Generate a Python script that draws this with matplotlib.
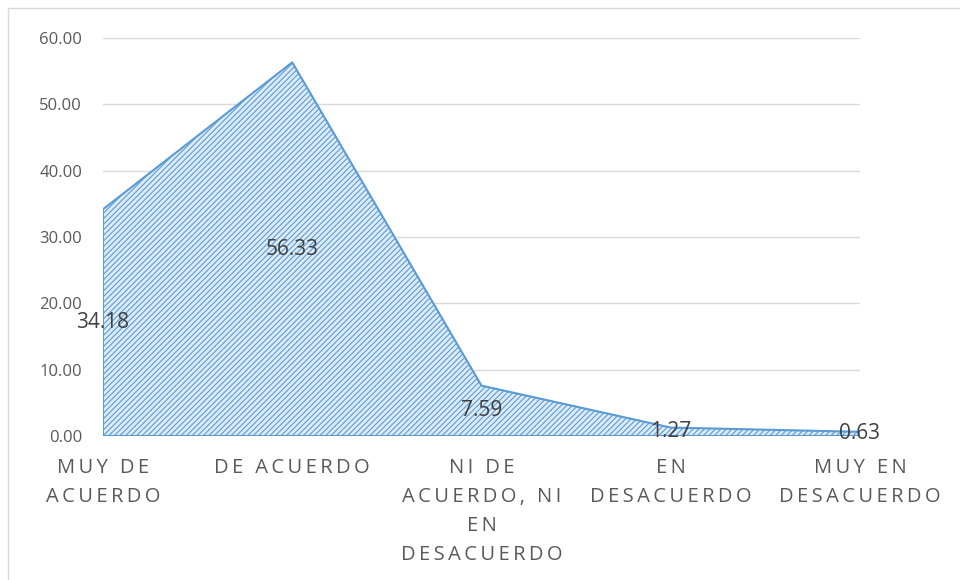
import matplotlib.pyplot as plt
from matplotlib.patches import Rectangle

# datos de la grafica
categorias = ["MUY DE\nACUERDO", "DE ACUERDO", "NI DE\nACUERDO, NI\nEN\nDESACUERDO",
              "EN\nDESACUERDO", "MUY EN\nDESACUERDO"]
porcentajes = [34.18, 56.33, 7.59, 1.27, 0.63]
yticks = [0, 10, 20, 30, 40, 50, 60]

plt.rcParams['font.family'] = ['Open Sans', 'DejaVu Sans']
plt.rcParams['hatch.linewidth'] = 0.8


def espaciar(txt):
    # separa las letras para imitar el espaciado de Excel
    return "\n".join("\u2009".join(linea) for linea in txt.split("\n"))


fig = plt.figure(figsize=(9.6, 5.8), dpi=100)
ax = fig.add_axes([103 / 960, 1 - 436 / 580, (860 - 103) / 960, (436 - 38) / 580])

x = list(range(len(porcentajes)))
ax.fill_between(x, 0, porcentajes, facecolor='#DDEBF7', edgecolor='#5B9BD5',
                hatch='//////', linewidth=1.5, zorder=2)

for i, v in zip(x, porcentajes):
    ax.text(i, v / 2, f"{v:.2f}", ha='center', va='center', fontsize=15,
            color='#404040', zorder=3)

ax.set_xlim(0, len(porcentajes) - 1)
ax.set_ylim(0, 60)
ax.set_yticks(yticks)
ax.set_yticklabels([f"{t:.2f}" for t in yticks])
ax.set_xticks(x)
ax.set_xticklabels([espaciar(c) for c in categorias], linespacing=1.6)
ax.grid(axis='y', color='#D9D9D9', linewidth=1, zorder=0)
ax.set_axisbelow(True)
for s in ax.spines.values():
    s.set_visible(False)
ax.tick_params(axis='both', length=0, labelsize=12, labelcolor='#595959')
ax.tick_params(axis='x', labelsize=14.5, pad=16)
ax.tick_params(axis='y', pad=15)

# marco del grafico
fig.patches.append(Rectangle((8 / 960, -0.1), 1.2, 1 - 8 / 580 + 0.1, transform=fig.transFigure,
                             fill=False, edgecolor='#D9D9D9', linewidth=1))

fig.savefig("out.png", dpi=100)
